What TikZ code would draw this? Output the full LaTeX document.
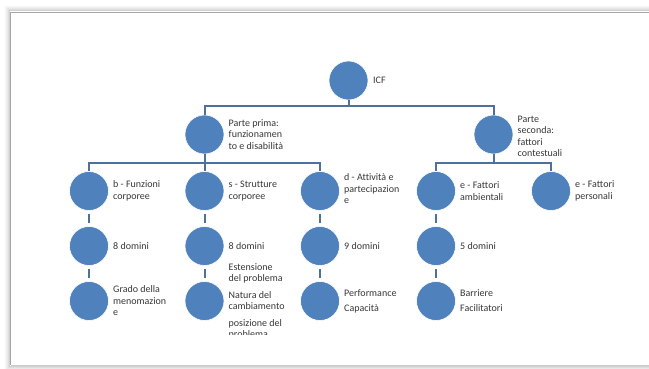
\documentclass[tikz,border=0pt]{standalone}
\usepackage{fontspec}
\setmainfont{Carlito}[Ligatures=NoCommon]
\definecolor{circfill}{RGB}{79,129,189}
\definecolor{linkcol}{RGB}{78,112,156}
\definecolor{txtcol}{RGB}{55,55,55}
\begin{document}
\begin{tikzpicture}[x=1pt,y=-1pt,
  circ/.style={circle,fill=circfill,draw=white,line width=0.6pt,minimum size=39pt,inner sep=0pt},
  lab/.style={anchor=west,inner sep=0pt,align=left,text=txtcol,font=\fontsize{10}{11.5}\selectfont},
  link/.style={draw=linkcol,line width=2pt},
  rowlink/.style={link,shorten >=3pt,shorten <=3pt}]
\useasboundingbox (0,0) rectangle (649,369);
% page frame with soft shadow
\fill[white] (0,0) rectangle (649,369);
\foreach \d/\o in {5/0.04,4/0.06,3/0.09,2/0.13,1/0.18}{
  \draw[black,opacity=\o,line width=1pt] (10-\d,365+\d) -- (10-\d,12-\d) -- (660,12-\d);
  \draw[black,opacity=\o,line width=1pt] (10-\d,365+\d) -- (660,365+\d);
}
\draw[gray!70,line width=1pt] (10.5,365) -- (10.5,12.5) -- (660,12.5);
\draw[gray!40,line width=0.8pt] (10.5,365) -- (660,365);
% coordinates of bars
\coordinate (bar0) at (0,106);
\coordinate (bar1) at (0,163);
% circles
\node[circ] (icf) at (348.5,80.5) {};
\node[circ] (p1) at (204.5,134.5) {};
\node[circ] (p2) at (493.5,134.5) {};
\node[circ] (b1) at (89,191) {};
\node[circ] (b2) at (89,246) {};
\node[circ] (b3) at (89,301) {};
\node[circ] (s1) at (204.5,191) {};
\node[circ] (s2) at (204.5,246) {};
\node[circ] (s3) at (204.5,301) {};
\node[circ] (d1) at (320,191) {};
\node[circ] (d2) at (320,246) {};
\node[circ] (d3) at (320,301) {};
\node[circ] (e1) at (436,191) {};
\node[circ] (e2) at (436,246) {};
\node[circ] (e3) at (436,301) {};
\node[circ] (f1) at (551,191) {};
% connectors
\draw[link] (icf.south) -- (icf.south |- bar0) -| (p1.north);
\draw[link] (icf.south |- bar0) -| (p2.north);
\draw[link] (p1.south) -- (p1.south |- bar1) -| (b1.north);
\draw[link] (p1.south |- bar1) -| (d1.north);
\draw[link] (p1.south |- bar1) -- (s1.north);
\draw[link] (p2.south) -- (p2.south |- bar1) -| (e1.north);
\draw[link] (p2.south |- bar1) -| (f1.north);
\foreach \c in {b,s,d,e}{
  \draw[rowlink] (\c1.south) -- (\c2.north);
  \draw[rowlink] (\c2.south) -- (\c3.north);
}
% labels
\node[lab] (ticf) at (373,80.5) {ICF};
\node[lab] (tp1) at (228.5,134.5) {Parte prima:\\funzionamen\\to e disabilità};
\node[lab] (tp2) at (517.5,136.5) {Parte\\seconda:\\fattori\\contestuali};
\node[lab] (tb1) at (113,191) {b - Funzioni\\corporee};
\node[lab] (tb2) at (113,246) {8 domini};
\node[lab] (tb3) at (113,301) {Grado della\\menomazion\\e};
\node[lab] (ts1) at (228.5,191) {s - Strutture\\corporee};
\node[lab] (ts2) at (228.5,246) {8 domini};
\begin{scope}
\clip (220,250) rectangle (300,334);
\node[lab,font=\fontsize{10}{11}\selectfont] (ts3) at (228.5,301) {Estensione\\del problema\\[6pt]Natura del\\cambiamento\\[6pt]posizione del\\problema};
\end{scope}
\node[lab] (td1) at (344,189) {d - Attività e\\partecipazion\\e};
\node[lab] (td2) at (344,246) {9 domini};
\node[lab] (td3) at (344,301) {Performance\\[3.5pt]Capacità};
\node[lab] (te1) at (460,191) {e - Fattori\\ambientali};
\node[lab] (te2) at (460,246) {5 domini};
\node[lab] (te3) at (460,301) {Barriere\\[3.5pt]Facilitatori};
\node[lab] (tf1) at (575,191) {e - Fattori\\personali};
\end{tikzpicture}
\end{document}
